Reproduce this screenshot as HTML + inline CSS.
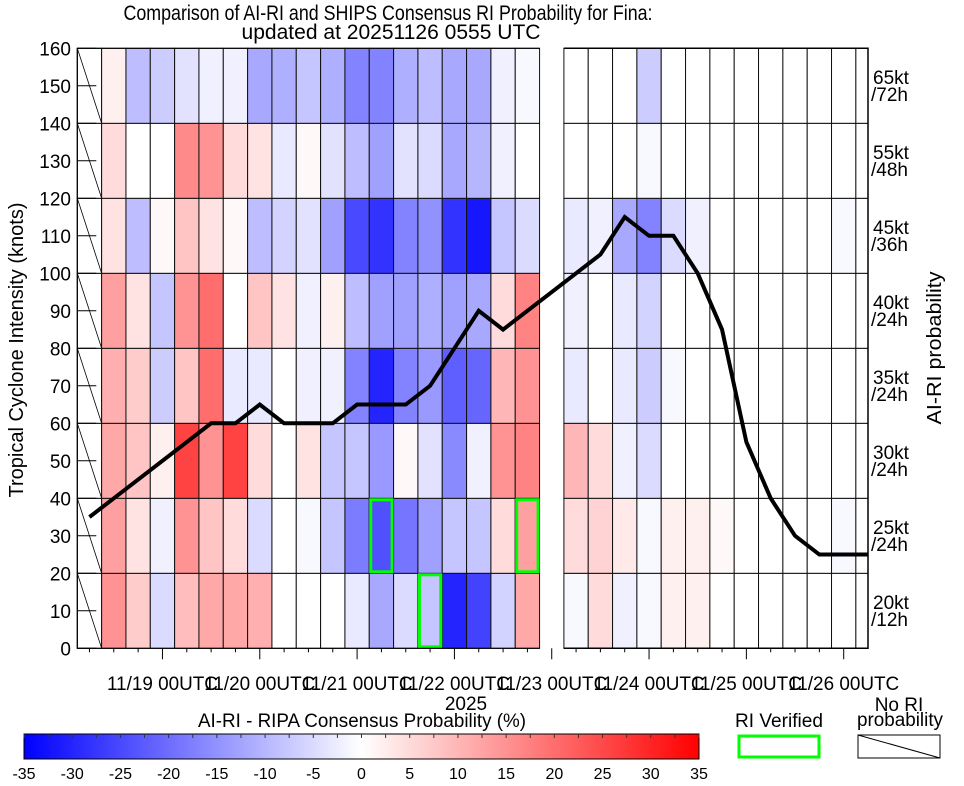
<!DOCTYPE html>
<html><head><meta charset="utf-8">
<style>
body{margin:0;background:#fff;}
svg{display:block;font-family:"Liberation Sans",sans-serif;}
</style></head>
<body>
<svg id="chart" width="964" height="786" viewBox="0 0 964 786" xmlns="http://www.w3.org/2000/svg">
  <text x="388" y="20" font-size="21" text-anchor="middle" textLength="529" lengthAdjust="spacingAndGlyphs">Comparison of AI-RI and SHIPS Consensus RI Probability for Fina:</text>
  <text x="391" y="39" font-size="21" text-anchor="middle" textLength="299" lengthAdjust="spacingAndGlyphs">updated at 20251126 0555 UTC</text>
  <g id="cells"></g>
  <g id="boxes"></g>
  <g id="line"></g>
  <g id="axes"></g>
  <text transform="translate(23,350) rotate(-90)" font-size="20" text-anchor="middle" textLength="295" lengthAdjust="spacingAndGlyphs">Tropical Cyclone Intensity (knots)</text>
  <text transform="translate(941,348) rotate(-90)" font-size="20" text-anchor="middle" textLength="153" lengthAdjust="spacingAndGlyphs">AI-RI probability</text>
  <text x="466" y="710" font-size="19" text-anchor="middle">2025</text>
  <text x="362" y="727" font-size="19" text-anchor="middle" textLength="328" lengthAdjust="spacingAndGlyphs">AI-RI - RIPA Consensus Probability (%)</text>
  <defs>
    <linearGradient id="cbgrad" x1="0" x2="1" y1="0" y2="0">
      <stop offset="0" stop-color="#0000ff"/>
      <stop offset="0.5" stop-color="#ffffff"/>
      <stop offset="1" stop-color="#ff0000"/>
    </linearGradient>
  </defs>
  <rect x="24" y="734" width="675" height="25" fill="url(#cbgrad)" stroke="#000" stroke-width="1"/>
  <g id="cbticks"></g>
  <text x="779" y="727" font-size="19" text-anchor="middle" textLength="88" lengthAdjust="spacingAndGlyphs">RI Verified</text>
  <rect x="739" y="736" width="80" height="21" fill="none" stroke="#00ff00" stroke-width="3"/>
  <text x="899" y="711" font-size="19" text-anchor="middle">No RI</text>
  <text x="900" y="726" font-size="19" text-anchor="middle" textLength="86" lengthAdjust="spacingAndGlyphs">probability</text>
  <rect x="858" y="735" width="82" height="23" fill="#fff" stroke="#000" stroke-width="1"/>
  <line x1="858" y1="735" x2="940" y2="758" stroke="#000" stroke-width="1"/>
</svg>
<script>
// ---- data ----
const rowLabelsTop = ["20kt","25kt","30kt","35kt","40kt","45kt","55kt","65kt"];
const rowLabelsBot = ["/12h","/24h","/24h","/24h","/24h","/36h","/48h","/72h"];
const yTicks = [0,10,20,30,40,50,60,70,80,90,100,110,120,130,140,150,160];
const dayLabels = ["11/19 00UTC","11/20 00UTC","11/21 00UTC","11/22 00UTC","11/23 00UTC","11/24 00UTC","11/25 00UTC","11/26 00UTC"];
const cbTicks = [-35,-30,-25,-20,-15,-10,-5,0,5,10,15,20,25,30,35];
// cell values for columns 1..32 (column 0 = no RI probability, column 19 = missing)
const row0 = [15,7,-5,9,12,12,11,0,0,0,-3,-12,-5,-8,-30,-26,-6,12,null,-1,5,-2,-1,2,2,0,0,0,0,0,0,0];
const row1 = [13,4,-2,15,8,5,-5,0,-1,-8,-18,-24,-19,-13,-8,-8,5,13,null,5,6,3,-1,2,2,1,0,0,0,0,-1,0];
const row2 = [12,8,2,26,15,26,5,0,4,-8,-8,-14,1,-4,-16,-2,15,17,null,10,5,-2,-5,0,0,0,0,0,0,0,0,0];
const row3 = [11,7,-7,8,20,-3,-3,0,-2,-2,-17,-30,-17,-14,-22,-21,10,15,null,-3,0,-3,-7,-1,0,0,0,0,0,0,0,0];
const row4 = [13,4,-8,15,20,0,8,4,-2,2,-9,-13,-13,-11,-13,-12,5,17,null,-2,0,-3,-6,0,0,0,0,0,0,0,0,0];
const row5 = [4,-9,1,8,4,1,-9,-6,-4,-13,-25,-28,-17,-15,-28,-32,-8,-5,null,-3,-2,-12,-17,-5,-2,0,0,0,0,0,-1,0];
const row6 = [5,0,0,16,15,5,4,-3,1,-4,-9,-13,-4,-5,-12,-10,-2,0,null,0,0,0,-1,0,0,0,0,0,0,0,0,0];
const row7 = [2,-9,-7,-4,-2,-2,-12,-11,-8,-11,-17,-17,-11,-9,-12,-12,-2,-1,null,0,0,0,-7,0,0,0,0,0,0,0,0,0];
const rows = [row0,row1,row2,row3,row4,row5,row6,row7];
// RI verified cells: [column, row]
const verifiedCols = [12,14,18];
const verifiedRows = [1,0,1];
// best-track intensity (kt) at each 6-h column 0..32
const intensity = [35,40,45,50,55,60,60,65,60,60,60,65,65,65,70,80,90,85,90,95,100,105,115,110,110,100,85,55,40,30,25,25,25];

// ---- scales ----
const X0 = 77.3, CW = 24.33, XR = 868;
const Y0 = 648.3, PXK = 3.75;
const colL = k => X0 + CW*k;
const colR = k => Math.min(XR, X0 + CW*(k+1));
const colC = k => X0 + CW*(k+0.5);
const yS = v => Y0 - v*PXK;
const rowTop = r => yS((r+1)*20), rowBot = r => yS(r*20);
const NS = "http://www.w3.org/2000/svg";
function mk(tag, attrs, parent){const e=document.createElementNS(NS,tag);for(const k in attrs)e.setAttribute(k,attrs[k]);parent.appendChild(e);return e;}
function col(v){const f=Math.min(Math.abs(v)/35,1);const c=Math.round(255*(1-f));return v<0?`rgb(${c},${c},255)`:`rgb(255,${c},${c})`;}

const gC=document.getElementById('cells'), gB=document.getElementById('boxes'), gL=document.getElementById('line'), gA=document.getElementById('axes'), gT=document.getElementById('cbticks');
const NCOL = 33;
for(let r=0;r<8;r++){
  for(let k=0;k<NCOL;k++){
    if(k===19) continue;
    const x=colL(k), w=colR(k)-x, y=rowTop(r), h=rowBot(r)-y;
    let fill='#fff';
    if(k>0){const v=rows[r][k-1]; if(v===null) continue; fill=col(v);}
    const rc=mk('rect',{x:x,y:y,width:w,height:h,fill:fill,stroke:'#111','stroke-width':1},gC);
    
    
    if(k===0){
      const hl=mk('line',{x1:x,y1:y,x2:x+w,y2:y+h,stroke:'#000','stroke-width':0.8},gC);
      
      
    }
  }
}
// frame
const fl=mk('polyline',{points:`${colL(19)},${yS(160)} ${X0},${yS(160)} ${X0},${Y0} ${colL(19)},${Y0}`,fill:'none',stroke:'#000','stroke-width':1.2},gA);


const fr=mk('polyline',{points:`${colL(20)},${yS(160)} ${XR},${yS(160)} ${XR},${Y0} ${colL(20)},${Y0}`,fill:'none',stroke:'#000','stroke-width':1.5},gA);


// verified boxes
for(let i=0;i<verifiedCols.length;i++){
  const k=verifiedCols[i], r=verifiedRows[i];
  const b=mk('rect',{x:colL(k)+1.5,y:rowTop(r)+1.5,width:CW-3,height:rowBot(r)-rowTop(r)-3,fill:'none',stroke:'#00ff00','stroke-width':3},gB);
  
  
}
// intensity line
const pts=intensity.map((v,k)=>`${Math.min(colC(k),XR)},${yS(v)}`).join(' ');
const pl=mk('polyline',{points:pts,fill:'none',stroke:'#000','stroke-width':4,'stroke-linejoin':'miter'},gL);


// y ticks
yTicks.forEach(v=>{
  const t=mk('line',{x1:X0,y1:yS(v),x2:X0+19,y2:yS(v),stroke:'#000','stroke-width':1},gA);
  
  
  const tx=mk('text',{x:71,y:yS(v)+7,'font-size':19,'text-anchor':'end'},gA);
  tx.textContent=v;
  
  
});
// right labels
for(let r=0;r<8;r++){
  const cy=(rowTop(r)+rowBot(r))/2;
  const a=mk('text',{x:873,y:cy-2,'font-size':19},gA); a.textContent=rowLabelsTop[r];
  
  
  const b=mk('text',{x:871,y:cy+15,'font-size':19},gA); b.textContent=rowLabelsBot[r];
  
  
}
// x ticks
for(let k=0;k<NCOL;k++){
  const x=colC(k); if(x>XR) continue;
  const major=(k-3)%4===0;
  const t=mk('line',{x1:x,y1:Y0,x2:x,y2:Y0+(major?11:4),stroke:'#000','stroke-width':1},gA);
  
  
}
dayLabels.forEach((s,i)=>{
  const tx=mk('text',{x:colC(3+4*i),y:690,'font-size':19,'text-anchor':'middle',textLength:111,lengthAdjust:'spacingAndGlyphs'},gA);
  tx.textContent=s;
  
  
});
// colorbar ticks
const cbX=v=>24+(v+35)/70*675;
for(let v=-35;v<=35;v+=2.5){
  const t=mk('line',{x1:cbX(v),y1:734,x2:cbX(v),y2:738,stroke:'#333','stroke-width':1},gT);
  
  
}
cbTicks.forEach(v=>{
  const tx=mk('text',{x:cbX(v),y:779,'font-size':16,'text-anchor':'middle'},gT);
  tx.textContent=v;
  
  
});
</script>
</body></html>
